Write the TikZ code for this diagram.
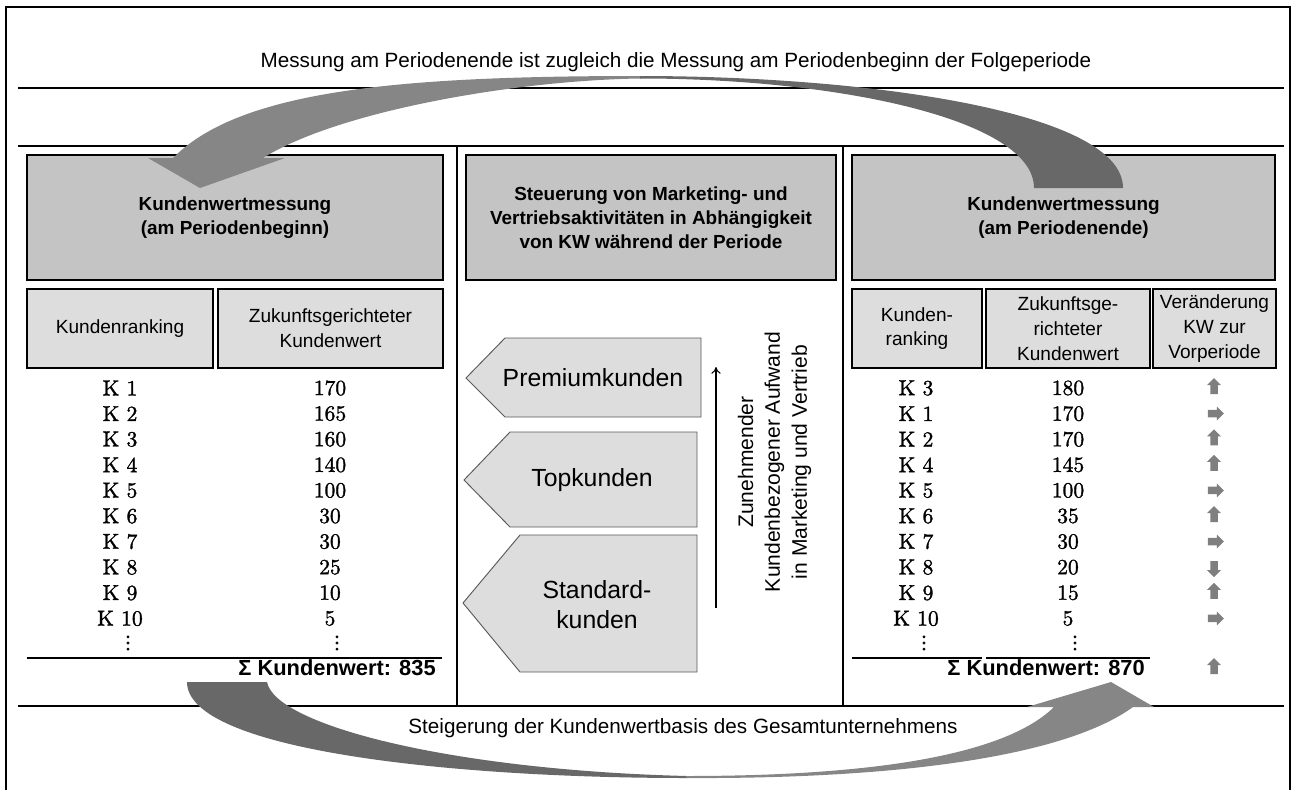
\documentclass[tikz,border=0pt]{standalone}
\usepackage{fontspec}
\newfontfamily\arial{Liberation Sans}
\newfontfamily\tabfam[RawFeature={embolden=1.4}]{lmroman10-regular.otf}
\newfontfamily\lmm[RawFeature={embolden=2.5}]{latinmodern-math.otf}
\usetikzlibrary{shapes.arrows,arrows.meta}
\definecolor{hdr}{HTML}{C4C4C4}
\definecolor{subc}{HTML}{DDDDDD}
\definecolor{arrL}{HTML}{868686}
\definecolor{arrD}{HTML}{686868}
\definecolor{chg}{HTML}{7F7F7F}
\begin{document}
\begin{tikzpicture}[x=0.75pt,y=-0.75pt,
  sepline/.style={line width=0.9pt},
  hdrbox/.style={draw=black, fill=hdr, line width=0.9pt, align=center,
    font=\arial\bfseries\fontsize{14.2}{18}\selectfont},
  subbox/.style={draw=black, fill=subc, line width=0.9pt, align=center,
    minimum height=59.25pt, font=\arial\fontsize{14.3}{18.6}\selectfont},
  tab/.style={font=\tabfam\fontsize{16.2}{19}\selectfont, inner sep=0pt},
  vdt/.style={font=\lmm\fontsize{16.5}{18}\selectfont, inner sep=0pt},
  sumtxt/.style={font=\arial\bfseries\fontsize{16.4}{19}\selectfont, inner sep=0pt},
  captxt/.style={font=\arial\fontsize{15.5}{19}\selectfont, inner sep=0pt},
  pent/.style={draw=black!65, fill=subc, line width=0.7pt},
  penttxt/.style={font=\arial\fontsize{18.6}{22.5}\selectfont, align=center, inner sep=0pt},
  rottxt/.style={font=\arial\fontsize{15.8}{20.2}\selectfont, align=center, rotate=90, inner sep=0pt},
  chgarrow/.style={single arrow, fill=chg, draw=none, minimum height=12pt,
    inner sep=2.6pt, single arrow head extend=2.4pt, single arrow tip angle=90},
]
\useasboundingbox (0,0) rectangle (1295,789);
% frame
\draw[line width=1.3pt] (6,790) -- (6,7) -- (1290,7) -- (1290,790);
% separator lines
\draw[sepline] (18,88) -- (1284,88);
\draw[sepline] (18,146) -- (1284,146);
\draw[sepline] (18,706) -- (1284,706);
\draw[sepline] (457,146) -- (457,706);
\draw[sepline] (843,146) -- (843,706);

% captions
\node[captxt] (topcap) at (676,62) {Messung am Periodenende ist zugleich die Messung am Periodenbeginn der Folgeperiode};
\node[captxt] (botcap) at (683,728) {Steigerung der Kundenwertbasis des Gesamtunternehmens};

% header boxes
\node[hdrbox, minimum width=312pt, minimum height=93.75pt] (h1) at (235,217.5) {Kundenwertmessung\\(am Periodenbeginn)};
\node[hdrbox, minimum width=277.5pt, minimum height=93.75pt] (h2) at (651,217.5) {Steuerung von Marketing- und\\Vertriebsaktivitäten in Abhängigkeit\\von KW während der Periode};
\node[hdrbox, minimum width=317.25pt, minimum height=93.75pt] (h3) at (1063.5,217.5) {Kundenwertmessung\\(am Periodenende)};

% sub headers
\node[subbox, minimum width=139.5pt] (s1) at (120,328.5) {Kundenranking};
\node[subbox, minimum width=168.75pt] (s2) at (330.5,328.5) {Zukunftsgerichteter\\Kundenwert};
\node[subbox, minimum width=97.5pt] (s3) at (917,328.5) {Kunden-\\ranking};
\node[subbox, minimum width=123pt] (s4) at (1068,328.5) {Zukunftsge-\\richteter\\Kundenwert};
\node[subbox, minimum width=92.25pt] (s5) at (1214.5,328.5) {Veränderung\\KW zur\\Vorperiode};

% left table
\foreach \k/\v [count=\i] in {1/170,2/165,3/160,4/140,5/100,6/30,7/30,8/25,9/10,10/5} {
  \node[tab] (lk\i) at (120,{362.4+25.6*\i}) {K \k};
  \node[tab] (lv\i) at (330,{362.4+25.6*\i}) {\v};
}
\node[vdt] (ldk) at (128,643) {⋮};
\node[vdt] (ldv) at (337,643) {⋮};
\draw[sepline] (27,658) -- (442,658);
\node[sumtxt, anchor=east] (lsum) at (436,668) {Σ Kundenwert: 835};

% right table
\foreach \k/\v/\r [count=\i] in {3/180/90,1/170/0,2/170/90,4/145/90,5/100/0,6/35/90,7/30/0,8/20/-90,9/15/90,10/5/0} {
  \node[tab] (rk\i) at (916,{362.4+25.6*\i}) {K \k};
  \node[tab] (rv\i) at (1068,{362.4+25.6*\i}) {\v};
  \node[chgarrow, rotate=\r] (ca\i) at (1214,{362.4+25.6*\i}) {};
}
\node[vdt] (rdk) at (924,643) {⋮};
\node[vdt] (rdv) at (1075,643) {⋮};
\draw[sepline] (852,658) -- (982,658);
\draw[sepline] (986,658) -- (1150,658);
\node[sumtxt, anchor=east] (rsum) at (1145,668) {Σ Kundenwert: 870};
\node[chgarrow, rotate=90] (casum) at (1214,668) {};

% customer segments
\draw[pent] (466,378) -- (505,338) -- (701,338) -- (701,417) -- (505,417) -- cycle;
\draw[pent] (464,480) -- (510,432) -- (697,432) -- (697,527) -- (510,527) -- cycle;
\draw[pent] (463,603) -- (520,535) -- (697,535) -- (697,672) -- (520,672) -- cycle;
\node[penttxt] (p1) at (593,378) {Premiumkunden};
\node[penttxt] (p2) at (592,480) {Topkunden};
\node[penttxt] (p3) at (597,605) {Standard-\\kunden};

% effort arrow
\coordinate (effB) at (716,608);
\coordinate (effT) at (716,367);
\draw[line width=0.8pt, -{To[length=5pt,width=7pt]}] (effB) -- (effT);
\node[rottxt] (rot) at (774.5,462) {Zunehmender\\Kundenbezogener Aufwand\\in Marketing und Vertrieb};

% top curved arrow
\fill[arrL] (641,76) .. controls (400,76) and (240,90) .. (173,158) -- (148,158) -- (200,188) -- (285,158) -- (263,158) .. controls (340,110) and (520,80) .. (641,78.5) -- cycle;
\fill[arrD] (640,76) .. controls (860,76) and (1123,110) .. (1123,188) -- (1034,188) .. controls (1034,120) and (840,78.5) .. (640,78.5) -- cycle;

% bottom curved arrow
\fill[arrD] (187,682) .. controls (187,750) and (450,778) .. (687,778) -- (687,776) .. controls (450,770) and (275,725) .. (267,682) -- cycle;
\fill[arrL] (686,778) .. controls (880,779) and (1060,760) .. (1133,707) -- (1154,707) -- (1111,682) -- (1027,707) -- (1054,707) .. controls (1000,760) and (850,776) .. (686,776) -- cycle;
\end{tikzpicture}
\end{document}
